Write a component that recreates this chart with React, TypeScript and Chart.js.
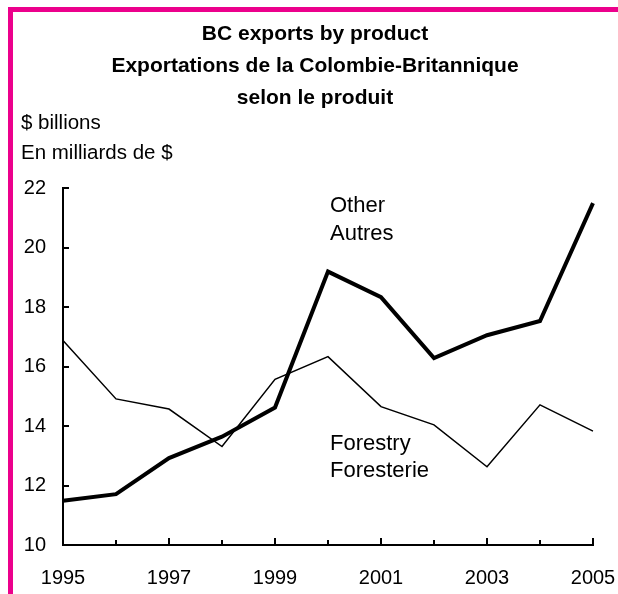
import React, { useEffect, useRef } from "react";
import { Chart, registerables } from "chart.js";

Chart.register(...registerables);

const years = ["1995", "1996", "1997", "1998", "1999", "2000", "2001", "2002", "2003", "2004", "2005"];
const otherValues = [11.49, 11.71, 12.92, 13.64, 14.62, 19.19, 18.33, 16.28, 17.05, 17.53, 21.49];
const forestryValues = [16.87, 14.91, 14.57, 13.31, 15.57, 16.33, 14.65, 14.04, 12.63, 14.71, 13.83];
const yTickValues = [10, 12, 14, 16, 18, 20, 22];
const titleLines = ["BC exports by product", "Exportations de la Colombie-Britannique", "selon le produit"];
const unitLines = ["$ billions", "En milliards de $"];
const otherLabel = ["Other", "Autres"];
const forestryLabel = ["Forestry", "Foresterie"];

const FONT = "'Liberation Sans', Arial, Helvetica, sans-serif";

const decorPlugin = {
  id: "decor",
  afterDraw(chart: any) {
    const ctx = chart.ctx;
    const xs = chart.scales.x;
    const ys = chart.scales.y;
    const area = chart.chartArea;
    ctx.save();
    ctx.fillStyle = "#000";
    // title
    ctx.font = `bold 21px ${FONT}`;
    ctx.textAlign = "center";
    ctx.textBaseline = "middle";
    titleLines.forEach((t, i) => ctx.fillText(t, 315, 34 + i * 32));
    // units
    ctx.font = `20.5px ${FONT}`;
    ctx.textAlign = "left";
    unitLines.forEach((t, i) => ctx.fillText(t, 21, 123 + i * 30));
    // series labels
    ctx.font = `22px ${FONT}`;
    ctx.textBaseline = "alphabetic";
    const lx = xs.getPixelForValue(5) + 2;
    ctx.fillText(otherLabel[0], lx, ys.getPixelForValue(21.18));
    ctx.fillText(otherLabel[1], lx, ys.getPixelForValue(20.26));
    ctx.fillText(forestryLabel[0], lx, ys.getPixelForValue(13.2));
    ctx.fillText(forestryLabel[1], lx, ys.getPixelForValue(12.3));
    // inward ticks
    ctx.strokeStyle = "#000";
    ctx.lineWidth = 2;
    ctx.beginPath();
    yTickValues.forEach((v) => {
      const y = Math.round(ys.getPixelForValue(v));
      ctx.moveTo(area.left, y);
      ctx.lineTo(area.left + 6, y);
    });
    years.forEach((_, i) => {
      const x = Math.round(xs.getPixelForValue(i));
      const len = i % 2 === 0 ? 7 : 5;
      ctx.moveTo(x, area.bottom);
      ctx.lineTo(x, area.bottom - len);
    });
    ctx.stroke();
    ctx.restore();
  },
};

export default function App() {
  const canvasRef = useRef<HTMLCanvasElement | null>(null);

  useEffect(() => {
    if (!canvasRef.current) return;
    const chart = new Chart(canvasRef.current, {
      type: "line",
      data: {
        labels: years,
        datasets: [
          {
            label: "Other",
            data: otherValues,
            borderColor: "#000",
            borderWidth: 4,
            pointRadius: 0,
            tension: 0,
            borderJoinStyle: "miter",
          },
          {
            label: "Forestry",
            data: forestryValues,
            borderColor: "#000",
            borderWidth: 1.5,
            pointRadius: 0,
            tension: 0,
            borderJoinStyle: "miter",
          },
        ],
      },
      options: {
        responsive: false,
        devicePixelRatio: 1,
        animation: false,
        layout: { padding: { top: 188, right: 25, bottom: 0, left: 0 } },
        plugins: {
          legend: { display: false },
          tooltip: { enabled: false },
          title: { display: false },
        },
        scales: {
          x: {
            type: "category",
            offset: false,
            grid: { display: false, drawTicks: false },
            border: { display: true, color: "#000", width: 2 },
            ticks: {
              autoSkip: false,
              maxRotation: 0,
              padding: 21,
              color: "#000",
              font: { family: FONT, size: 20 },
              callback: (_v: any, i: number) => (i % 2 === 0 ? years[i] : ""),
            },
            afterFit: (s: any) => {
              s.height = 49;
              s.paddingLeft = 0;
              s.paddingRight = 0;
            },
          },
          y: {
            type: "linear",
            min: 10,
            max: 22,
            grid: { display: false, drawTicks: false },
            border: { display: true, color: "#000", width: 2 },
            ticks: {
              stepSize: 2,
              padding: 17,
              color: "#000",
              font: { family: FONT, size: 20 },
            },
            afterFit: (s: any) => {
              s.width = 63;
              s.paddingTop = 0;
              s.paddingBottom = 0;
            },
          },
        },
      },
      plugins: [decorPlugin],
    });
    return () => chart.destroy();
  }, []);

  return (
    <div style={{ position: "absolute", left: 0, top: 0, width: 618, height: 594, overflow: "hidden", background: "#fff" }}>
      <div
        style={{
          position: "absolute",
          left: 8,
          top: 7,
          width: 800,
          height: 800,
          border: "5px solid #EC008C",
          boxSizing: "border-box",
        }}
      />
      <canvas
        ref={canvasRef}
        width={618}
        height={594}
        style={{ position: "absolute", left: 0, top: 0, width: 618, height: 594 }}
      />
    </div>
  );
}
